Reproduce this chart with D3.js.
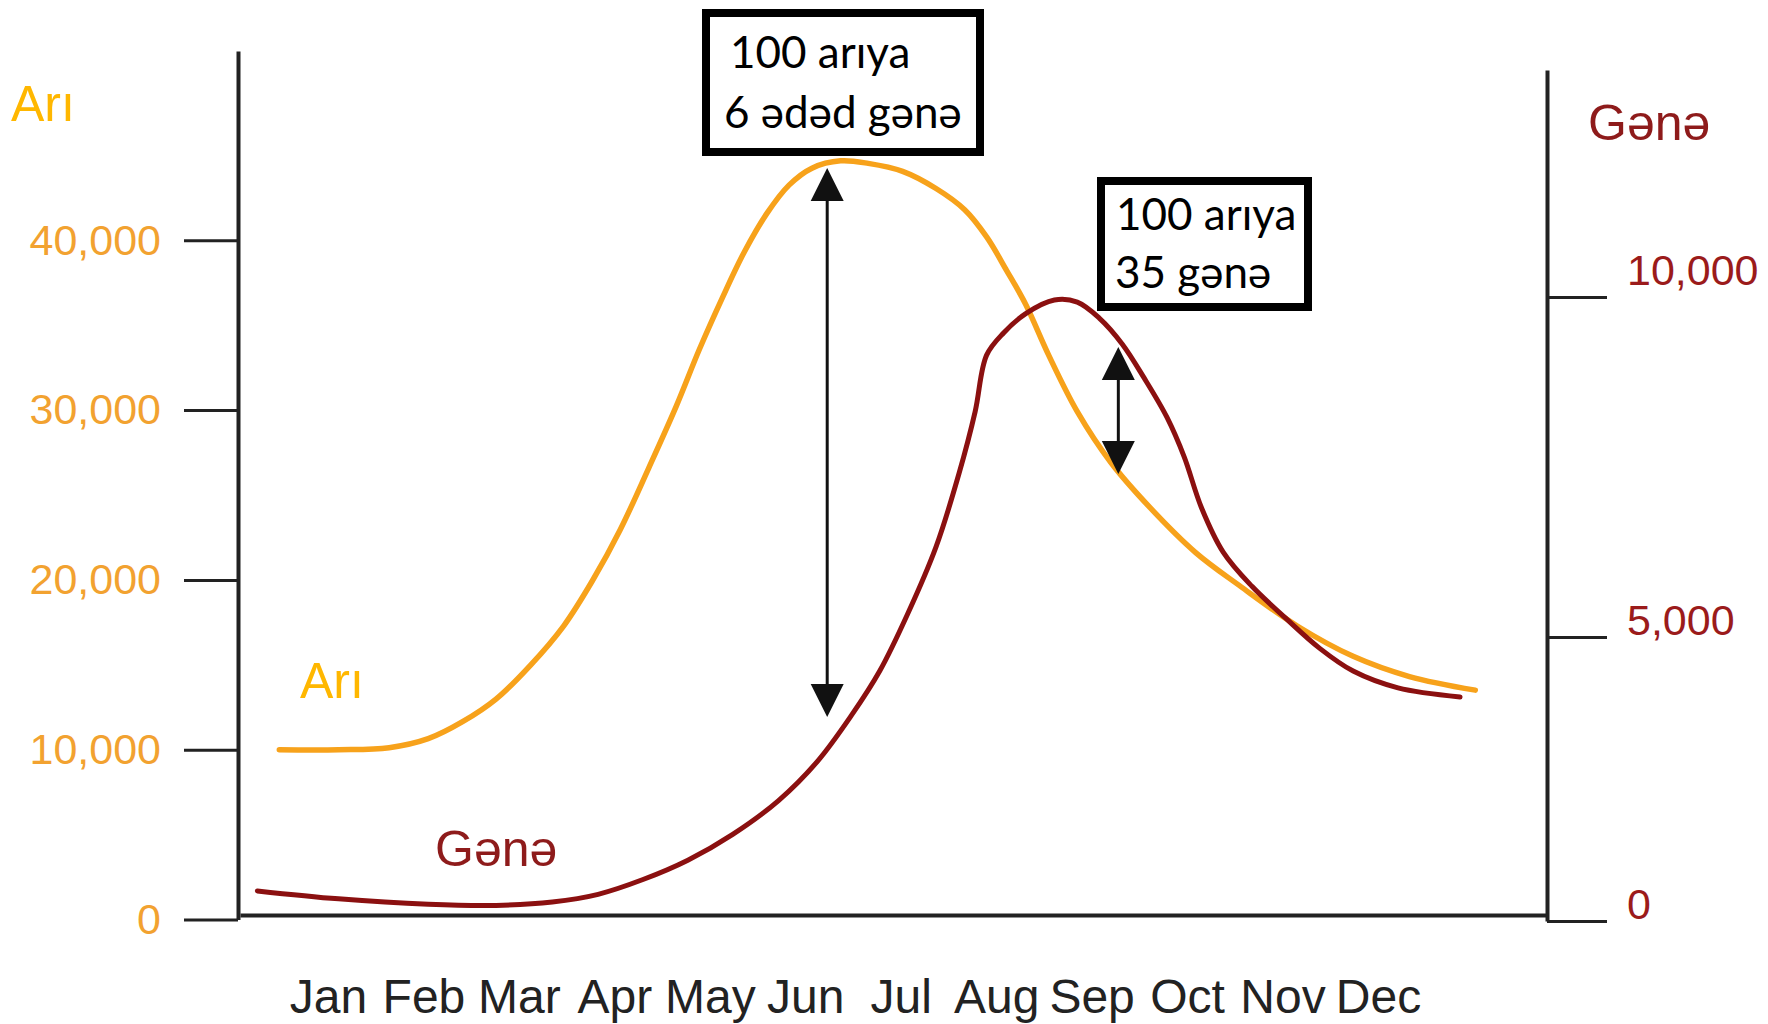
<!DOCTYPE html>
<html><head><meta charset="utf-8">
<script src="https://cdn.jsdelivr.net/npm/d3@7"></script>
<style>body{margin:0;background:#fff;} svg{display:block;}</style>
</head><body>
<svg id="c" width="1768" height="1024"></svg>
<script>
// ---- data ----
const months = ["Jan","Feb","Mar","Apr","May","Jun","Jul","Aug","Sep","Oct","Nov","Dec"];
const ariTicks = [0, 10000, 20000, 30000, 40000];
const genaTicks = [0, 5000, 10000];
// Arı (bees) – month position, value (left axis)
const ariX = [-0.51, 0.11, 0.64, 1.05, 1.41, 1.76, 2.12, 2.47, 2.77, 3.06, 3.36, 3.65, 3.89, 4.13, 4.36, 4.60, 4.83, 5.07, 5.37, 5.66, 6.02, 6.37, 6.67, 6.90, 7.11, 7.31, 7.55, 7.85, 8.20, 8.61, 9.09, 9.56, 10.15, 10.74, 11.33, 12.02];
const ariY = [10000, 10000, 10120, 10650, 11650, 12980, 14970, 17300, 19950, 22940, 26590, 30250, 33570, 36600, 39300, 41600, 43250, 44250, 44680, 44530, 44060, 43050, 41800, 40200, 38220, 36220, 33240, 29910, 26930, 24270, 21610, 19620, 17300, 15500, 14310, 13510];
// Gənə (mites) – month position, value (right axis)
const genaX = [-0.74, 0.11, 1.05, 1.76, 2.35, 2.83, 3.30, 3.77, 4.24, 4.72, 5.13, 5.48, 5.78, 6.07, 6.37, 6.61, 6.78, 6.90, 7.08, 7.31, 7.61, 7.85, 8.08, 8.32, 8.55, 8.79, 8.97, 9.15, 9.38, 9.68, 10.03, 10.39, 10.74, 11.21, 11.86];
const genaY = [530, 390, 295, 275, 335, 470, 730, 1070, 1525, 2120, 2815, 3610, 4400, 5330, 6325, 7400, 8315, 9145, 9475, 9755, 9955, 9925, 9690, 9310, 8810, 8230, 7650, 6905, 6245, 5745, 5280, 4800, 4400, 4105, 3945];
// double arrows (month position, top value, bottom value on left axis)
const arrowX = [5.23, 8.28];
const arrowTop = [44260, 33720];
const arrowBottom = [11926, 26240];
const boxLines = [["100 arıya", "6 ədəd gənə"], ["100 arıya", "35 gənə"]];

// ---- scales ----
const svg = d3.select("#c");
const x = d3.scaleLinear().domain([-0.922, 12.771]).range([240, 1547]);
const yL = d3.scaleLinear().domain([0, 51150]).range([919.5, 51]);
const yR = d3.scaleLinear().domain([0, 5000, 10000, 13340]).range([921, 637, 297, 70]);

const axisCol = "#222";
const orange = "#F7A21B", red = "#8B1010";
const sans = "Liberation Sans, Arial, sans-serif";

// left axis
const gL = svg.append("g").attr("transform", "translate(238,0)")
  .call(d3.axisLeft(yL).tickValues(ariTicks).tickSize(54).tickSizeOuter(0).tickPadding(23).tickFormat(d3.format(",")));
gL.select(".domain").attr("stroke", axisCol).attr("stroke-width", 4);
gL.selectAll(".tick line").attr("stroke", axisCol).attr("stroke-width", 3);
gL.selectAll(".tick text").attr("fill", "#F2A230").attr("font-family", sans).attr("font-size", 43);

// right axis
const gR = svg.append("g").attr("transform", "translate(1547,0)")
  .call(d3.axisRight(yR).tickValues(genaTicks).tickSize(60).tickSizeOuter(0).tickPadding(20).tickFormat(d3.format(",")));
gR.select(".domain").attr("stroke", axisCol).attr("stroke-width", 4);
gR.selectAll(".tick line").attr("stroke", axisCol).attr("stroke-width", 3);
gR.selectAll(".tick text").attr("fill", "#9B1B1B").attr("font-family", sans).attr("font-size", 43)
  .attr("dy", d => d === 10000 ? "-0.3em" : "-0.05em");

// bottom axis
const gB = svg.append("g").attr("transform", "translate(0,915)")
  .call(d3.axisBottom(x).tickValues(d3.range(months.length)).tickFormat(i => months[i]).tickSize(0).tickSizeOuter(0).tickPadding(64));
gB.select(".domain").attr("stroke", axisCol).attr("stroke-width", 4);
gB.selectAll(".tick text").attr("fill", "#222").attr("font-family", sans).attr("font-size", 48);

// lines
const ariData = ariX.map((v, i) => [v, ariY[i]]);
const genaData = genaX.map((v, i) => [v, genaY[i]]);
svg.append("path").datum(ariData).attr("fill", "none").attr("stroke", orange).attr("stroke-width", 5.5)
  .attr("stroke-linecap", "round")
  .attr("d", d3.line().x(d => x(d[0])).y(d => yL(d[1])).curve(d3.curveCatmullRom.alpha(0.5)));
svg.append("path").datum(genaData).attr("fill", "none").attr("stroke", red).attr("stroke-width", 5)
  .attr("stroke-linecap", "round")
  .attr("d", d3.line().x(d => x(d[0])).y(d => yR(d[1])).curve(d3.curveCatmullRom.alpha(0.5)));

// arrows
arrowX.forEach((m, i) => {
  const ax = x(m), t = yL(arrowTop[i]), b = yL(arrowBottom[i]);
  const hl = 33, hw = 16.5;
  svg.append("line").attr("x1", ax).attr("x2", ax).attr("y1", t + 10).attr("y2", b - 10)
    .attr("stroke", "#111").attr("stroke-width", 3);
  svg.append("path").attr("fill", "#111")
    .attr("d", `M${ax},${t}L${ax - hw},${t + hl}L${ax + hw},${t + hl}Z`);
  svg.append("path").attr("fill", "#111")
    .attr("d", `M${ax},${b}L${ax - hw},${b - hl}L${ax + hw},${b - hl}Z`);
});

// annotation boxes
const boxes = [
  {x: 706, y: 13, w: 274, h: 139, tx: [730, 724], ty: [68, 128]},
  {x: 1101, y: 181, w: 207, h: 126, tx: [1116, 1115], ty: [230, 288]}
];
boxes.forEach((b, i) => {
  svg.append("rect").attr("x", b.x).attr("y", b.y).attr("width", b.w).attr("height", b.h)
    .attr("fill", "#fff").attr("stroke", "#000").attr("stroke-width", 8);
  boxLines[i].forEach((t, j) => {
    svg.append("text").attr("x", b.tx[j]).attr("y", b.ty[j]).text(t)
      .attr("font-family", "Lato, 'Open Sans', sans-serif").attr("font-size", 44).attr("fill", "#000");
  });
});

// series / axis titles
const lab = (t, xx, yy, col) => svg.append("text").attr("x", xx).attr("y", yy).text(t)
  .attr("font-family", sans).attr("font-size", 50).attr("fill", col);
lab("Arı", 11, 121, "#FFB700");
lab("Gənə", 1588, 140, "#8E1B1B");
lab("Arı", 300, 698, "#FFB700");
lab("Gənə", 435, 866, "#8E1B1B");
</script>
</body></html>
